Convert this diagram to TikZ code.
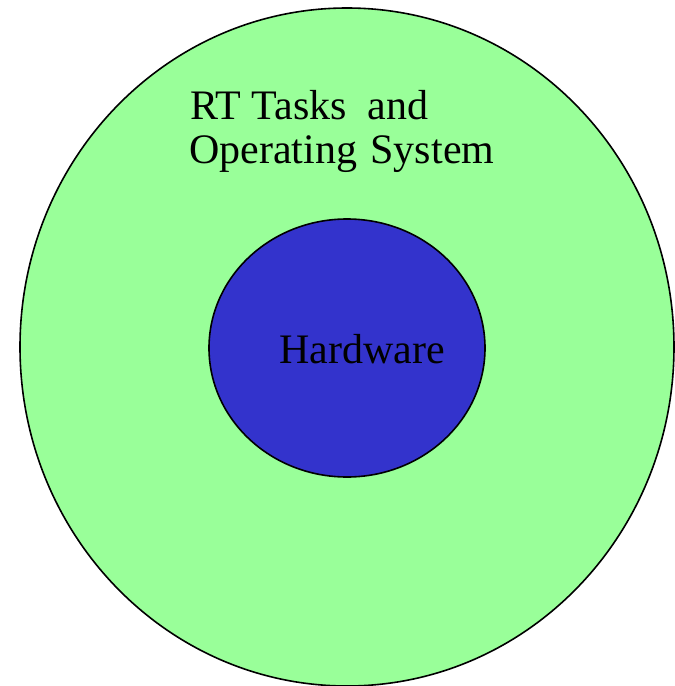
\documentclass[tikz,border=0pt]{standalone}
\usepackage{fontspec}
\setmainfont{Liberation Serif}
\definecolor{outergreen}{HTML}{99FF99}
\definecolor{innerblue}{HTML}{3333CC}
\tikzset{
  layer/.style={draw=black, line width=1.6pt},
  lbl/.style={font=\fontsize{42}{44}\selectfont, inner sep=0pt, anchor=base west, text=black}
}
\begin{document}
\begin{tikzpicture}[x=1pt,y=-1pt]
\useasboundingbox (0,0) rectangle (675,686);
\path[layer, fill=outergreen] (347,347) ellipse [x radius=327, y radius=339];
\path[layer, fill=innerblue] (347,348) ellipse [x radius=138, y radius=129];
\node[lbl] (rt) at (190,119) {RT Tasks\hspace{10pt} and};
\node[lbl] (os) at (189,163) {Operating\hspace{3pt} System};
\node[lbl] (hw) at (279,363) {Hardware};
\end{tikzpicture}
\end{document}
